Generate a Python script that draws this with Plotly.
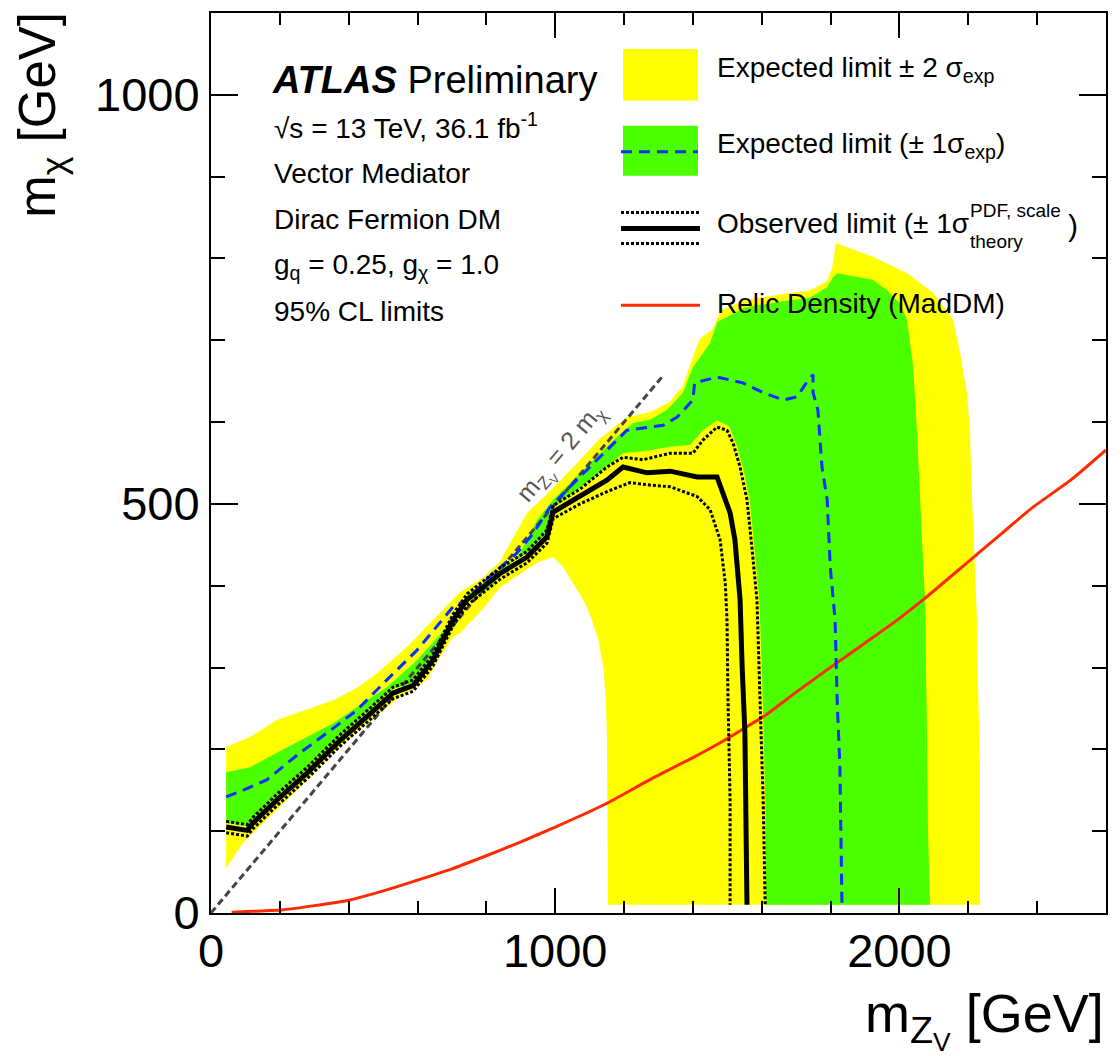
import plotly.graph_objects as go

# ---------------- data (GeV) ----------------
# +-2 sigma expected band (filled polygon)
yellow_x = [44, 113, 191, 259, 355, 424, 482, 569, 645, 723, 790, 840, 869, 918, 976, 1034, 1130, 1208, 1275,
            1330, 1371, 1395, 1420, 1458, 1480, 1550, 1650, 1740, 1790, 1805, 1815, 1860, 1923, 2022, 2098, 2156,
            2176, 2196, 2205, 2211, 2220, 2225, 2228, 2234, 2234,
            1153, 1152, 1150, 1147, 1140, 1125, 1105, 1085, 1055, 1023, 994,
            947, 900, 840, 790, 723, 703, 665, 628, 549, 453, 355, 259, 163, 93, 44]
yellow_y = [203, 215, 236, 246, 260, 275, 293, 325, 358, 392, 410, 430, 452, 489, 512, 537, 580, 606, 612,
            624, 644, 674, 702, 714, 736, 749, 756, 761, 772, 790, 819, 812, 802, 782, 758, 725,
            684, 636, 587, 505, 423, 358, 281, 178, 10,
            10, 100, 220, 260, 300, 334, 360, 380, 400, 423, 435,
            428, 415, 398, 372, 342, 337, 313, 285, 264, 232, 196, 154, 114, 86, 55]

# +-1 sigma expected band (filled polygon)
green_x = [44, 113, 191, 259, 355, 453, 511, 598, 686, 723, 811, 898, 947, 994, 1081, 1180, 1226, 1275, 1325,
           1371, 1400, 1450, 1470, 1550, 1650, 1740, 1790, 1807, 1819, 1923, 1964, 2002, 2022, 2040, 2051,
           2060, 2069, 2074, 2080, 2083, 2089,
           1613, 1610, 1603, 1593, 1580, 1565, 1545, 1525, 1505, 1470, 1429, 1392, 1334, 1267, 1197, 1120,
           1072, 994,
           976, 918, 840, 744, 703, 645, 587, 529, 453, 375, 279, 191, 122, 105, 44]
green_y = [172, 178, 196, 211, 232, 260, 276, 309, 350, 375, 398, 440, 480, 505, 541, 582, 599, 603, 615,
           636, 667, 697, 722, 740, 747, 752, 765, 777, 782, 774, 761, 745, 725, 667, 587,
           505, 423, 383, 220, 98, 10,
           10, 138, 260, 383, 444, 505, 545, 574, 595, 602, 590, 572, 570, 565, 562, 535,
           520, 495,
           465, 440, 420, 388, 362, 314, 281, 274, 245, 216, 176, 143, 115, 106, 110]

# expected limit
exp_x = [44, 93, 163, 259, 337, 424, 511, 598, 703, 744, 819, 889, 936, 985, 1043, 1130, 1208, 1275, 1313,
         1354, 1400, 1405, 1470, 1545, 1604, 1662, 1703, 1734, 1749, 1749, 1763, 1775, 1790, 1799, 1813,
         1819, 1827, 1833]
exp_y = [142, 150, 163, 196, 220, 248, 285, 321, 374, 383, 415, 440, 464, 496, 521, 557, 590, 594, 596,
         606, 627, 648, 655, 648, 636, 627, 631, 651, 658, 636, 615, 545, 505, 423, 358,
         260, 178, 10]

# observed limit
obs_x = [44, 105, 122, 191, 279, 375, 453, 529, 587, 645, 703, 744, 840, 918, 976, 994, 1014, 1072, 1150,
         1197, 1267, 1334, 1412, 1470, 1488, 1508, 1522, 1531, 1537, 1543, 1551, 1557]
obs_y = [105, 101, 110, 138, 171, 211, 240, 269, 278, 309, 358, 383, 415, 435, 460, 490, 495, 509, 529,
         545, 538, 540, 533, 533, 511, 489, 456, 403, 383, 301, 220, 10]

# observed limit, theory +1 sigma
obs_up_x = [44, 105, 122, 191, 279, 375, 453, 529, 587, 645, 703, 744, 840, 918, 976, 994, 1072, 1150,
            1197, 1255, 1334, 1400, 1429, 1470, 1499, 1517, 1537, 1557, 1572, 1586, 1595, 1604, 1610]
obs_up_y = [112, 108, 117, 145, 178, 218, 247, 276, 285, 316, 365, 390, 422, 442, 468, 498, 518, 545,
            557, 554, 562, 562, 578, 594, 590, 574, 545, 505, 444, 383, 260, 138, 10]

# observed limit, theory -1 sigma
obs_dn_x = [44, 105, 122, 191, 279, 375, 453, 529, 587, 645, 703, 744, 840, 918, 976, 994, 1072, 1150,
            1217, 1275, 1334, 1412, 1450, 1479, 1494, 1499, 1502, 1508, 1508]
obs_dn_y = [98, 94, 103, 131, 164, 204, 233, 262, 271, 302, 351, 376, 408, 428, 452, 482, 500, 515,
            526, 523, 521, 509, 493, 456, 403, 358, 260, 138, 10]

# relic density
relic_x = [60, 120, 210, 300, 404, 500, 598, 700, 800, 900, 1000, 1100, 1159, 1275, 1400, 1470, 1546,
           1615, 1700, 1819, 1900, 1993, 2069, 2196, 2300, 2388, 2500, 2600]
relic_y = [1, 2, 4, 9, 16, 27, 40, 54, 70, 87, 105, 124, 136, 163, 190, 206, 225,
           243, 270, 306, 330, 358, 383, 428, 465, 496, 530, 566]

# kinematic line m_Z = 2 m_chi
diag_x = [0, 1310]
diag_y = [0, 655]

x_ticks = [0, 1000, 2000]
y_ticks = [0, 500, 1000]
x_range = [0, 2600]
y_range = [0, 1100]

# ---------------- layout geometry ----------------
W, H = 1120, 1056
L, R, T, B = 211, 14, 11, 143
PW, PH = W - L - R, H - T - B
FONT = "Liberation Sans, Arial, Helvetica, sans-serif"


def px(xp):
    return (xp - L) / PW


def py(yp):
    return (H - B - yp) / PH


fig = go.Figure()
fig.add_trace(go.Scatter(x=yellow_x, y=yellow_y, mode="lines", fill="toself", fillcolor="#ffff00",
                         line=dict(width=0, color="#ffff00"), hoverinfo="skip", showlegend=False))
fig.add_trace(go.Scatter(x=green_x, y=green_y, mode="lines", fill="toself", fillcolor="#4cff00",
                         line=dict(width=0, color="#4cff00"), hoverinfo="skip", showlegend=False))
fig.add_trace(go.Scatter(x=relic_x, y=relic_y, mode="lines", line=dict(color="#ff2a00", width=3, shape="spline",
                                                                       smoothing=0.6),
                         showlegend=False))
fig.add_trace(go.Scatter(x=diag_x, y=diag_y, mode="lines",
                         line=dict(color="#444444", width=3, dash="7px,4px"), showlegend=False))
fig.add_trace(go.Scatter(x=exp_x, y=exp_y, mode="lines",
                         line=dict(color="#0a2eff", width=3, dash="11px,7px"), showlegend=False))
fig.add_trace(go.Scatter(x=obs_up_x, y=obs_up_y, mode="lines",
                         line=dict(color="black", width=3, dash="3px,2px"), showlegend=False))
fig.add_trace(go.Scatter(x=obs_dn_x, y=obs_dn_y, mode="lines",
                         line=dict(color="black", width=3, dash="3px,2px"), showlegend=False))
fig.add_trace(go.Scatter(x=obs_x, y=obs_y, mode="lines", line=dict(color="black", width=5),
                         showlegend=False))

axis_common = dict(showline=True, linecolor="black", linewidth=2, mirror="allticks", ticks="inside",
                   tickwidth=2, tickcolor="black", showgrid=False, zeroline=False,
                   tickfont=dict(family=FONT, size=47, color="black"))
fig.update_xaxes(range=x_range, tickvals=x_ticks, ticklen=25, ticklabelstandoff=-4,
                 minor=dict(dtick=200, ticklen=12, ticks="inside", tickwidth=2, tickcolor="black",
                            showgrid=False),
                 **axis_common)
fig.update_yaxes(range=y_range, tickvals=y_ticks, ticklen=27,
                 minor=dict(dtick=100, ticklen=14, ticks="inside", tickwidth=2, tickcolor="black",
                            showgrid=False),
                 **axis_common)

ann = []


def text(s, xp, yp, size, anchor="left", color="black", angle=0, xref="paper", yref="paper", xv=None, yv=None):
    ann.append(dict(text=s, x=px(xp) if xv is None else xv, y=py(yp) if yv is None else yv,
                    xref=xref, yref=yref, xanchor=anchor, yanchor="middle", showarrow=False,
                    textangle=angle, font=dict(family=FONT, size=size, color=color)))


# axis titles
text("m<sub>Z<sub>V</sub></sub> [GeV]", 1106, 1020, 54, anchor="right")
text("m<sub>χ</sub> [GeV]", 42, 113, 51, anchor="center", angle=-90)

# info block
text("<b><i>ATLAS</i></b> Preliminary", 270, 78, 38)
text("√s = 13 TeV, 36.1 fb<sup>-1</sup>", 272, 124, 28)
text("Vector Mediator", 272, 172, 28)
text("Dirac Fermion DM", 272, 218, 28)
text("g<sub>q</sub> = 0.25, g<sub>χ</sub> = 1.0", 272, 265, 28)
text("95% CL limits", 272, 310, 28)

# legend texts
text("Expected limit ± 2 σ<sub>exp</sub>", 715, 68, 28)
text("Expected limit (± 1σ<sub>exp</sub>)", 715, 144, 28)
text("Observed limit (± 1σ", 715, 222, 28)
text("PDF, scale", 968, 209, 19)
text("theory", 968, 240, 19)
text(")", 1066, 224, 30)
text("Relic Density (MadDM)", 715, 302, 28)

# diagonal label (rotated along the line)
text("m<sub>Z<sub>V</sub></sub> = 2 m<sub>χ</sub>", 0, 0, 25, anchor="center", color="#555555", angle=-50,
     xref="x", yref="y", xv=1020, yv=560)

shapes = []


def rect(x0, y0, x1, y1, color):
    shapes.append(dict(type="rect", xref="paper", yref="paper", x0=px(x0), x1=px(x1), y0=py(y1), y1=py(y0),
                       fillcolor=color, line=dict(width=0), layer="above"))


def hline(x0, x1, y, color, width, dash="solid"):
    shapes.append(dict(type="line", xref="paper", yref="paper", x0=px(x0), x1=px(x1), y0=py(y), y1=py(y),
                       line=dict(color=color, width=width, dash=dash), layer="above"))


rect(623, 47, 698, 99, "#ffff00")
rect(623, 124, 698, 174, "#4cff00")
hline(621, 698, 150, "#0a2eff", 3, "11px,7px")
hline(621, 700, 211, "black", 3, "3px,2px")
hline(621, 700, 227, "black", 5)
hline(621, 700, 242, "black", 3, "3px,2px")
hline(621, 700, 304, "#ff2a00", 3)

fig.update_layout(width=W, height=H, margin=dict(l=L, r=R, t=T, b=B, pad=0),
                  paper_bgcolor="white", plot_bgcolor="white", showlegend=False,
                  annotations=ann, shapes=shapes, font=dict(family=FONT, color="black"))

fig.write_html("out.html")
